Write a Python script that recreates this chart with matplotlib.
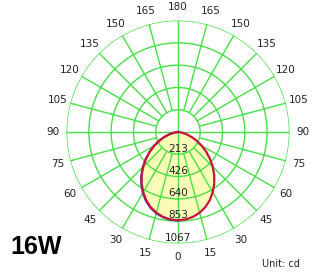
import numpy as np
import matplotlib
matplotlib.use('Agg')
import matplotlib.pyplot as plt

# light distribution, intensity in cd per angle from nadir
angles = [0, 5, 10, 15, 20, 25, 30, 35, 40, 45, 50, 55, 60, 65, 70, 75, 80, 85, 90]
c0 = [845, 840, 825, 800, 765, 720, 665, 605, 540, 470, 400, 330, 262, 198, 138, 86, 42, 12, 0]
c90 = [848, 843, 829, 806, 772, 728, 674, 614, 548, 477, 405, 334, 265, 200, 139, 86, 42, 12, 0]
rings = [213, 426, 640, 853, 1067]
ring_labels = ['213', '426', '640', '853', '1067']
tick_deg = list(range(0, 181, 15))

green = '#45e045'
rmax = 1067

fig = plt.figure(figsize=(3.12, 2.75), dpi=100)
ax = fig.add_axes([0.2131, 0.1145, 0.7147, 0.811], projection='polar')
ax.set_theta_zero_location('S')
ax.set_ylim(0, rmax)
ax.grid(False)
ax.set_xticks([])
ax.set_yticks([])
ax.spines['polar'].set_visible(False)

# curve (mirror the half plane)
a = np.array(angles)
th_c0 = np.deg2rad(np.concatenate([-a[::-1], a[1:]]))
r_c0 = np.concatenate([np.array(c0)[::-1], np.array(c0)[1:]])
th_c90 = np.deg2rad(-a)
r_c90 = np.array(c90)

ax.fill(th_c0, r_c0, color='#fbfbb8', zorder=1)

# grid
t = np.linspace(0, 2 * np.pi, 400)
for r in rings:
    ax.plot(t, np.full_like(t, r), color=green, lw=1.0, zorder=2)
for d in range(0, 360, 15):
    r0 = 0 if d % 90 == 0 else rings[0]
    ax.plot([np.deg2rad(d)] * 2, [r0, rmax], color=green, lw=1.0, zorder=2)

ax.plot(th_c90, r_c90, color='#3030c0', lw=1.4, zorder=3)
ax.plot(th_c0, r_c0, color='#c81438', lw=1.6, zorder=4)

for r, lab in zip(rings, ring_labels):
    ax.text(0, r - 55, lab, ha='center', va='center', fontsize=7.5,
            color='#222222', zorder=5)

for d in tick_deg:
    for s in ([1] if d in (0, 180) else [1, -1]):
        ax.text(np.deg2rad(s * d), 1195, str(d), ha='center', va='center',
                fontsize=7.5, color='#222222')

fig.text(10 / 312, 1 - 247 / 275, '16W', fontsize=18, fontweight='bold',
         family='Liberation Sans', ha='left', va='center')
fig.text(300 / 312, 1 - 264 / 275, 'Unit: cd', fontsize=7, color='#222222',
         ha='right', va='center')

fig.savefig('out.png', dpi=100)
